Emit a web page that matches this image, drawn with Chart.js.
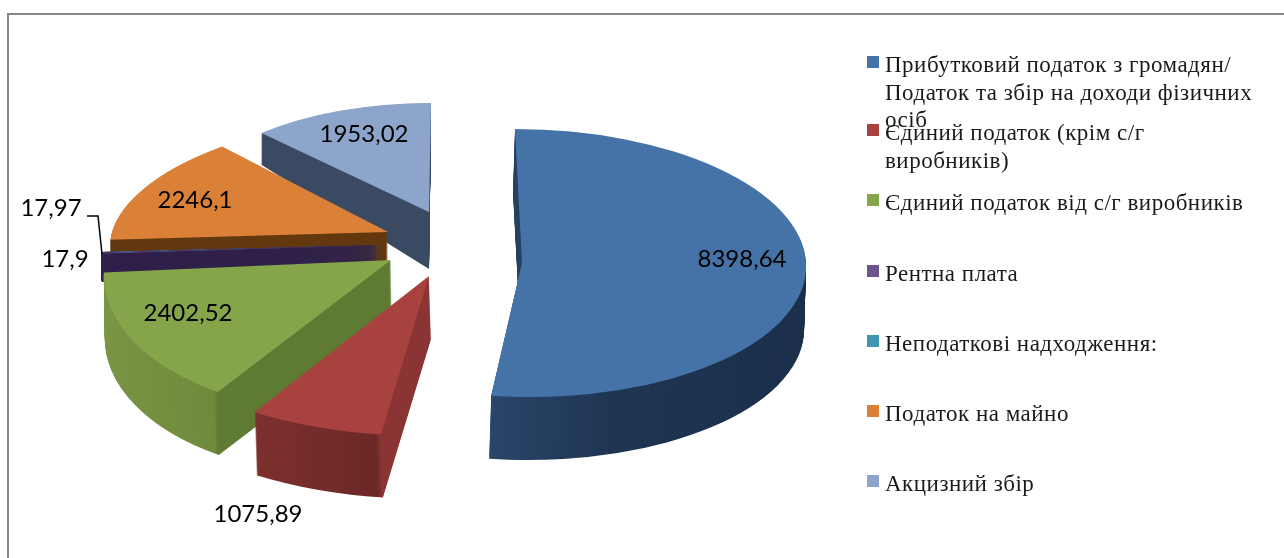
<!DOCTYPE html>
<html>
<head>
<meta charset="utf-8">
<script src="https://cdn.jsdelivr.net/npm/chart.js@4"></script>
<style>
  html, body { margin: 0; padding: 0; background: #fff; overflow: hidden; }
  canvas { display: block; }
</style>
</head>
<body>
<canvas id="pie" width="1284" height="558"></canvas>
<script>
// дані діаграми
const categories = [
  'Прибутковий податок з громадян/ Податок та збір на доходи фізичних осіб',
  'Єдиний податок (крім с/г виробників)',
  'Єдиний податок від с/г виробників',
  'Рентна плата',
  'Неподаткові надходження:',
  'Податок на майно',
  'Акцизний збір'
];
const values = [8398.64, 1075.89, 2402.52, 17.9, 17.97, 2246.1, 1953.02];
const topColors = ['#4673A7', '#A8423F', '#86A44A', '#6E548D', '#3D96AE', '#DA8137', '#8EA5CB'];

// рядки легенди (як в оригіналі, із накладанням)
const legendLines = [
  ['Прибутковий податок з громадян/', 'Податок та збір на доходи фізичних', 'осіб'],
  ['Єдиний податок (крім с/г', 'виробників)'],
  ['Єдиний податок від с/г виробників'],
  ['Рентна плата'],
  ['Неподаткові надходження:'],
  ['Податок на майно'],
  ['Акцизний збір']
];
const legendLineGap = 27.5;
const legendBaselines = [72, 140, 210, 281, 351, 421, 491];

// вигляд кожного сектора: вершина, півосі, зсув, висота боковини
const sliceX  = [522, 429, 391, 385, 385, 388, 429];
const sliceY  = [263, 276, 260, 245, 245, 232, 212];
const sliceRx = [284, 324, 286, 284, 284, 276, 245];
const sliceRy = [134, 160, 155, 105, 105, 118, 109];
const sliceShear = [-7, 5, 27, 0, 0, 34, 2];
const sliceDepth = [63, 63, 63, 28, 28, 40, 57];
const bottomDx = [-2, 2, 1, 0, 0, 0, 0];
const bottomRy = [1, 1, 1, 1, 1, 1, 1.32];
const drawOrder = [6, 5, 4, 3, 2, 1, 0];
// кольори боковин: позиція по горизонталі всередині одиничного кола (-1..1)
const wallStops = [
  [[-0.15, '#2a466b'], [0.3, '#1f3552'], [1, '#1b2f4a']],
  [[-0.525, '#7d302e'], [-0.15, '#6b2826'], [-0.134, '#8a3533'], [0, '#8a3533']],
  [[-1, '#7a9544'], [-0.54, '#6f8a3c'], [-0.525, '#5f7a33'], [0, '#5f7a33']],
  [[-1, '#2e1f4a'], [0, '#2e1f4a']],
  [[-1, '#2e1f4a'], [0, '#2e1f4a']],
  [[-1, '#64380f'], [0, '#64380f']],
  [[-0.7, '#3b4a63'], [0, '#3b4a63']]
];

// підписи значень
const labelX = [742, 258, 188, 65, 51, 195, 364];
const labelY = [267, 522, 321, 267, 216, 208, 142];

const FRAME = '#868686';

function placeSlice(ctx, arc, i, depth) {
  const r = arc.outerRadius;
  const k = depth / sliceDepth[i];
  const ry = sliceRy[i] * (1 + (bottomRy[i] - 1) * k);
  ctx.translate(sliceX[i] + bottomDx[i] * k, sliceY[i] + depth);
  // одиничне коло -> нахилений еліпс
  ctx.transform(sliceRx[i] / r, 0, -sliceShear[i] / r, ry / r, 0, 0);
  ctx.translate(-arc.x, -arc.y);
}

const pie3d = {
  id: 'pie3d',
  beforeDatasetsDraw(chart) {
    const ctx = chart.ctx;
    const arcs = chart.getDatasetMeta(0).data;
    drawOrder.forEach(i => {
      const arc = arcs[i];
      const plain = arc.options;
      const r = arc.outerRadius;
      const grad = ctx.createLinearGradient(arc.x - r, 0, arc.x + r, 0);
      wallStops[i].forEach(s => grad.addColorStop((s[0] + 1) / 2, s[1]));
      arc.options = Object.create(plain, { backgroundColor: { value: grad } });
      // тонкі сектори менші за піксель, тому шарів більше
      const step = arc.circumference < 0.02 ? 0.04 : 1;
      for (let d = sliceDepth[i]; d > 0; d -= step) {
        ctx.save();
        placeSlice(ctx, arc, i, d);
        arc.draw(ctx, chart.chartArea);
        ctx.restore();
      }
      arc.options = plain;
      ctx.save();
      placeSlice(ctx, arc, i, 0);
      arc.draw(ctx, chart.chartArea);
      ctx.restore();
    });
    return false;
  },
  afterDraw(chart) {
    const ctx = chart.ctx;
    ctx.save();
    // виноска до малих секторів
    ctx.strokeStyle = '#000';
    ctx.lineWidth = 1.5;
    ctx.beginPath();
    ctx.moveTo(87, 216);
    ctx.lineTo(98, 216);
    ctx.lineTo(102, 254);
    ctx.stroke();

    ctx.fillStyle = '#000';
    ctx.font = '24px Lato';
    ctx.textAlign = 'center';
    ctx.textBaseline = 'alphabetic';
    values.forEach((v, i) => {
      ctx.fillText(String(v).replace('.', ','), labelX[i], labelY[i]);
    });

    ctx.textAlign = 'left';
    ctx.font = '23px "Liberation Serif"';
    ctx.letterSpacing = '0.5px';
    legendLines.forEach((lines, i) => {
      ctx.fillStyle = topColors[i];
      ctx.fillRect(867, legendBaselines[i] - 16, 12, 12);
      ctx.fillStyle = '#1a1a1a';
      lines.forEach((t, n) => {
        ctx.fillText(t, 885, legendBaselines[i] + n * legendLineGap);
      });
    });
    ctx.letterSpacing = '0px';

    ctx.strokeStyle = FRAME;
    ctx.lineWidth = 2;
    ctx.beginPath();
    ctx.moveTo(8, 558);
    ctx.lineTo(8, 14);
    ctx.lineTo(1284, 14);
    ctx.stroke();
    ctx.restore();
  }
};

new Chart(document.getElementById('pie'), {
  type: 'pie',
  data: {
    labels: categories,
    datasets: [{ data: values, backgroundColor: topColors, borderWidth: 0 }]
  },
  options: {
    responsive: false,
    animation: false,
    plugins: { legend: { display: false }, tooltip: { enabled: false } }
  },
  plugins: [pie3d]
});
</script>
</body>
</html>
